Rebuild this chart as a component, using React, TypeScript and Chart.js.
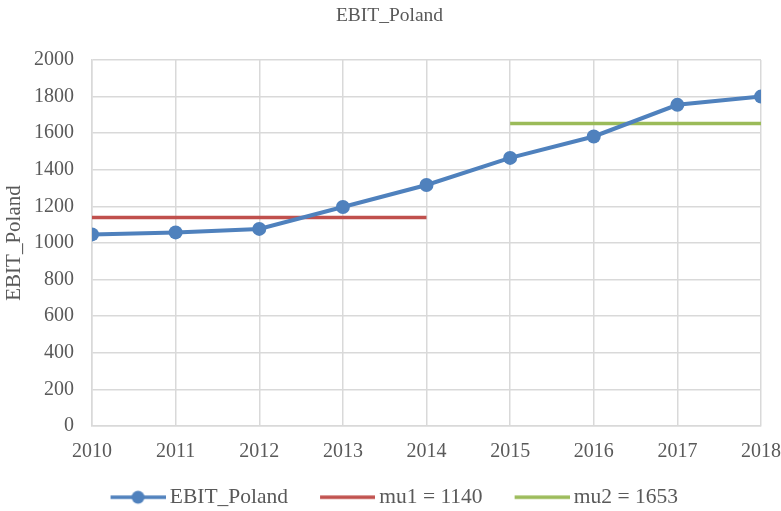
import React, { useEffect, useRef } from "react";
import { Chart, registerables } from "chart.js";

Chart.register(...registerables);

const years = [2010, 2011, 2012, 2013, 2014, 2015, 2016, 2017, 2018];
const ebit = [1047, 1058, 1077, 1197, 1317, 1465, 1582, 1755, 1800];
const mu1Years = [2010, 2014];
const mu1Value = 1140;
const mu2Years = [2015, 2018];
const mu2Value = 1653;
const seriesLabels = ["EBIT_Poland", "mu1 = 1140", "mu2 = 1653"];

const BLUE = "#4f81bd";
const RED = "#c0504d";
const GREEN = "#9bbb59";
const TEXT = "#595959";
const GRID = "#d9d9d9";
const FONT = "'Liberation Serif', 'Times New Roman', serif";

// legend icon: transparent left part, visible 55px line (+dot) at the right end
function makeIcon(color: string, dot: boolean): HTMLCanvasElement {
  const c = document.createElement("canvas");
  c.width = 71;
  c.height = 16;
  const ctx = c.getContext("2d")!;
  ctx.strokeStyle = color;
  ctx.lineWidth = 3.5;
  ctx.beginPath();
  ctx.moveTo(16, 8);
  ctx.lineTo(71, 8);
  ctx.stroke();
  if (dot) {
    ctx.fillStyle = color;
    ctx.beginPath();
    ctx.arc(43.5, 8, 6.5, 0, Math.PI * 2);
    ctx.fill();
  }
  return c;
}

export default function App() {
  const ref = useRef<HTMLCanvasElement>(null);
  useEffect(() => {
    const icons = [makeIcon(BLUE, true), makeIcon(RED, false), makeIcon(GREEN, false)];
    const chart = new Chart(ref.current!, {
      type: "line",
      data: {
        datasets: [
          {
            label: seriesLabels[0],
            data: years.map((x, i) => ({ x, y: ebit[i] })),
            borderColor: BLUE,
            backgroundColor: BLUE,
            borderWidth: 4,
            pointRadius: 7,
            pointBackgroundColor: BLUE,
            pointBorderWidth: 0,
          },
          {
            label: seriesLabels[1],
            data: mu1Years.map((x) => ({ x, y: mu1Value })),
            borderColor: RED,
            backgroundColor: RED,
            borderWidth: 3.5,
            pointRadius: 0,
          },
          {
            label: seriesLabels[2],
            data: mu2Years.map((x) => ({ x, y: mu2Value })),
            borderColor: GREEN,
            backgroundColor: GREEN,
            borderWidth: 3.5,
            pointRadius: 0,
          },
        ],
      },
      options: {
        animation: false,
        responsive: false,
        maintainAspectRatio: false,
        layout: { padding: { left: 0, right: 2, top: 0, bottom: 0 } },
        plugins: {
          title: {
            display: true,
            text: "EBIT_Poland",
            color: TEXT,
            font: { family: FONT, size: 19.5, weight: "normal" },
            padding: { top: 4, bottom: 32.6 },
          },
          legend: {
            position: "bottom",
            labels: {
              color: TEXT,
              font: { family: FONT, size: 21.5 },
              usePointStyle: true,
              pointStyleWidth: 58,
              boxHeight: 14,
              padding: 22.5,
              generateLabels: (ch) =>
                ch.data.datasets.map((ds, i) => ({
                  text: ds.label as string,
                  fillStyle: ds.borderColor as string,
                  strokeStyle: ds.borderColor as string,
                  pointStyle: icons[i],
                  datasetIndex: i,
                  hidden: false,
                  lineWidth: 0,
                  fontColor: TEXT,
                })),
            },
          },
          tooltip: { enabled: false },
        },
        scales: {
          x: {
            type: "linear",
            min: 2010,
            max: 2018,
            afterFit: (scale) => {
              scale.height = 38;
              scale.paddingRight = 20;
            },
            ticks: {
              stepSize: 1,
              color: TEXT,
              font: { family: FONT, size: 20 },
              callback: (v) => String(v),
              padding: 14,
              maxRotation: 0,
            },
            grid: { color: GRID, lineWidth: 1.5, drawTicks: false },
            border: { color: GRID, width: 1.5 },
          },
          y: {
            min: 0,
            max: 2000,
            afterFit: (scale) => {
              scale.width = 92;
            },
            ticks: {
              stepSize: 200,
              color: TEXT,
              font: { family: FONT, size: 20 },
              padding: 18,
              callback: (v) => String(v),
            },
            title: {
              display: true,
              text: "EBIT_Poland",
              color: TEXT,
              font: { family: FONT, size: 21 },
              padding: { top: 2, bottom: 0 },
            },
            grid: { color: GRID, lineWidth: 1.5, drawTicks: false },
            border: { color: GRID, width: 1.5 },
          },
        },
      },
    });
    return () => chart.destroy();
  }, []);
  return (
    <div
      style={{
        position: "fixed",
        left: 0,
        top: 0,
        width: 781,
        height: 511,
        overflow: "hidden",
        background: "#fff",
      }}
    >
      <canvas ref={ref} width={781} height={518} />
    </div>
  );
}
